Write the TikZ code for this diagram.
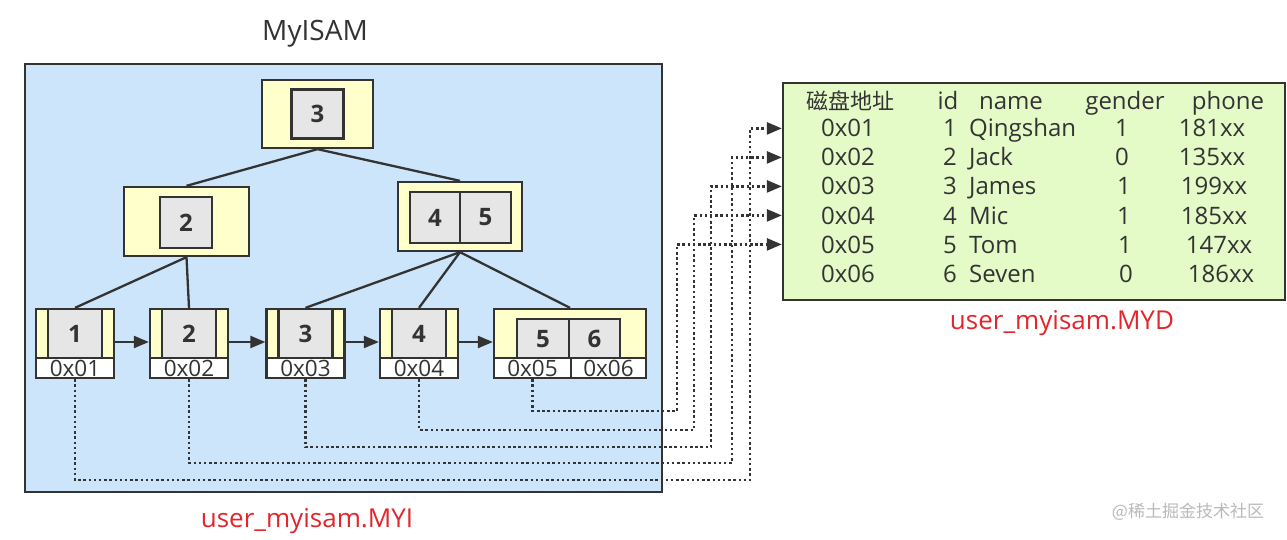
\documentclass[tikz,border=0pt]{standalone}
\usepackage{fontspec}
\setmainfont{Open Sans}
\newfontfamily\cjk{Noto Sans CJK SC}
\usetikzlibrary{arrows.meta}
\definecolor{linec}{HTML}{333333}
\definecolor{bluec}{HTML}{CCE5FB}
\definecolor{yellowc}{HTML}{FFFFCC}
\definecolor{cellc}{HTML}{E6E6E6}
\definecolor{greenc}{HTML}{E4FBC8}
\definecolor{redc}{HTML}{E3262B}

\begin{document}
\begin{tikzpicture}[x=1pt,y=-1pt,
        every node/.style={font=\fontsize{24}{28}\selectfont, text=linec, inner sep=0pt},
        frame/.style={draw=linec, line width=2.3pt},
        yellowbox/.style={frame, fill=yellowc},
        keycell/.style={frame, fill=cellc, font=\fontsize{24}{28}\selectfont\bfseries},
        addrcell/.style={frame, fill=white, minimum width=78pt, minimum height=20pt, font=\fontsize{22.5}{26}\selectfont},
        treeline/.style={linec, line width=2.3pt},
        nextptr/.style={linec, line width=2.3pt, -{Triangle[length=15pt,width=12pt]}},
        dataptr/.style={linec, line width=2.5pt, dash pattern=on 2.5pt off 2.7pt, -{Triangle[length=15pt,width=12pt]}},
        redlabel/.style={text=redc, font=\fontsize{26}{30}\selectfont}]
        \useasboundingbox (0,0) rectangle (1287,540);

        \node[frame, fill=bluec, minimum width=637pt, minimum height=428pt] (myi) at (343.5,278) {};
        \node[font=\fontsize{28}{32}\selectfont] (title) at (315,34) {MyISAM};

        \node[yellowbox, minimum width=111pt, minimum height=68pt] (root) at (317.5,114) {};
        \node[keycell, minimum width=52pt, minimum height=49pt] (k3) at (root) {3};
        \node[yellowbox, minimum width=125pt, minimum height=69pt] (inl) at (186.5,221.5) {};
        \node[keycell, minimum width=52pt, minimum height=51pt] (k2) at (186,222.5) {2};
        \node[yellowbox, minimum width=124pt, minimum height=69pt] (inr) at (460,216.5) {};
        \node[keycell, minimum width=50pt, minimum height=51pt] (k4) at (435,217.5) {4};
        \node[keycell, minimum width=51pt, minimum height=51pt] (k5) at (485.5,217.5) {5};

        \node[yellowbox, minimum width=78pt, minimum height=49pt] (leaf1) at (75,333.5) {};
        \node[keycell, minimum width=54pt, minimum height=49pt] (l1) at (leaf1) {1};
        \node[addrcell] (p1) at (75,368) {0x01};
        \node[yellowbox, minimum width=78pt, minimum height=49pt] (leaf2) at (189,333.5) {};
        \node[keycell, minimum width=54pt, minimum height=49pt] (l2) at (leaf2) {2};
        \node[addrcell] (p2) at (189,368) {0x02};
        \node[yellowbox, minimum width=78pt, minimum height=49pt] (leaf3) at (305.5,333.5) {};
        \node[keycell, minimum width=54pt, minimum height=49pt] (l3) at (leaf3) {3};
        \node[addrcell] (p3) at (305.5,368) {0x03};
        \node[yellowbox, minimum width=78pt, minimum height=49pt] (leaf4) at (419,333.5) {};
        \node[keycell, minimum width=54pt, minimum height=49pt] (l4) at (leaf4) {4};
        \node[addrcell] (p4) at (419,368) {0x04};
        \node[yellowbox, minimum width=152pt, minimum height=49pt] (leaf5) at (570,333.5) {};
        \node[keycell, minimum width=52pt, minimum height=40pt] (l5) at (543,339) {5};
        \node[keycell, minimum width=51pt, minimum height=40pt] (l6) at (594.5,339) {6};
        \node[addrcell, minimum width=77pt] (p5) at (532.5,368) {0x05};
        \node[addrcell, minimum width=75pt] (p6) at (608.5,368) {0x06};

        \draw[treeline] (root.south) -- (inl.north);
        \draw[treeline] (root.south) -- (inr.north);
        \draw[treeline] (inl.south) -- (leaf1.north);
        \draw[treeline] (inl.south) -- (leaf2.north);
        \draw[treeline] (inr.south) -- (leaf3.north);
        \draw[treeline] (inr.south) -- (leaf4.north);
        \draw[treeline] (inr.south) -- (leaf5.north);

        \draw[nextptr] ([yshift=-8.5pt]leaf1.east) -- ([yshift=-8.5pt]leaf2.west);
        \draw[nextptr] ([yshift=-8.5pt]leaf2.east) -- ([yshift=-8.5pt]leaf3.west);
        \draw[nextptr] ([yshift=-8.5pt]leaf3.east) -- ([yshift=-8.5pt]leaf4.west);
        \draw[nextptr] ([yshift=-8.5pt]leaf4.east) -- ([yshift=-8.5pt]leaf5.west);

        \node[frame, fill=greenc, minimum width=502pt, minimum height=217pt] (myd) at (1034,191.5) {};
        \node[anchor=base] (hd0) at (850,110) {\cjk\fontsize{22}{26}\selectfont 磁盘地址};
        \node[anchor=base] (hd1) at (948,110) {id};
        \node[anchor=base] (hd2) at (1011,110) {name};
        \node[anchor=base] (hd3) at (1125,110) {gender};
        \node[anchor=base] (hd4) at (1228,110) {phone};

        \node[anchor=base] (a1) at (848,137) {0x01}; \node[anchor=base east] (i1) at (957,137) {1}; \node[anchor=base west] (n1) at (969,137) {Qingshan}; \node[anchor=base] (g1) at (1122,137) {1}; \node[anchor=base] (f1) at (1212,137) {181xx};
        \node[anchor=base] (a2) at (848,166) {0x02}; \node[anchor=base east] (i2) at (957,166) {2}; \node[anchor=base west] (n2) at (969,166) {Jack}; \node[anchor=base] (g2) at (1122,166) {0}; \node[anchor=base] (f2) at (1212,166) {135xx};
        \node[anchor=base] (a3) at (848,195) {0x03}; \node[anchor=base east] (i3) at (957,195) {3}; \node[anchor=base west] (n3) at (969,195) {James}; \node[anchor=base] (g3) at (1124,195) {1}; \node[anchor=base] (f3) at (1214,195) {199xx};
        \node[anchor=base] (a4) at (848,224) {0x04}; \node[anchor=base east] (i4) at (957,224) {4}; \node[anchor=base west] (n4) at (969,224) {Mic}; \node[anchor=base] (g4) at (1124,224) {1}; \node[anchor=base] (f4) at (1214,224) {185xx};
        \node[anchor=base] (a5) at (848,253) {0x05}; \node[anchor=base east] (i5) at (957,253) {5}; \node[anchor=base west] (n5) at (969,253) {Tom}; \node[anchor=base] (g5) at (1125,253) {1}; \node[anchor=base] (f5) at (1219,253) {147xx};
        \node[anchor=base] (a6) at (848,282) {0x06}; \node[anchor=base east] (i6) at (957,282) {6}; \node[anchor=base west] (n6) at (969,282) {Seven}; \node[anchor=base] (g6) at (1126,282) {0}; \node[anchor=base] (f6) at (1221,282) {186xx};

        \coordinate (c1) at (750,480);
        \coordinate (c2) at (732,463);
        \coordinate (c3) at (711,447);
        \coordinate (c4) at (694,430);
        \coordinate (c5) at (677,411);
        \draw[dataptr] (p1.south) |- (c1) |- (myd.west |- a1);
        \draw[dataptr] (p2.south) |- (c2) |- (myd.west |- a2);
        \draw[dataptr] (p3.south) |- (c3) |- (myd.west |- a3);
        \draw[dataptr] (p4.south) |- (c4) |- (myd.west |- a4);
        \draw[dataptr] (p5.south) |- (c5) |- (myd.west |- a5);

        \node[redlabel] (myilabel) at (307,521) {user\_myisam.MYI};
        \node[redlabel] (mydlabel) at (1062,323) {user\_myisam.MYD};
        \node[text=gray!55, font=\cjk\fontsize{17}{20}\selectfont] (mark) at (1188,512) {@稀土掘金技术社区};
    \end{tikzpicture}
\end{document}
